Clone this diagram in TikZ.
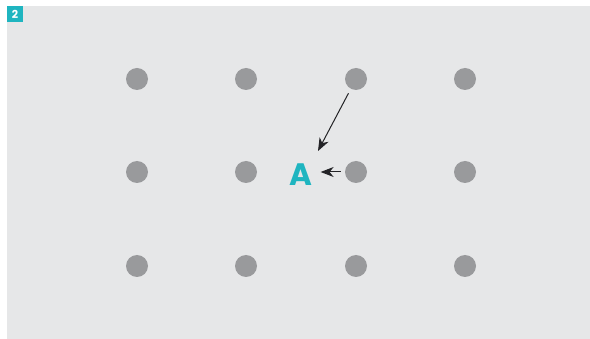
\documentclass[tikz,border=0pt]{standalone}
\usepackage{fontspec}
\setmainfont{Poppins}
\usetikzlibrary{arrows.meta}
\definecolor{panelGray}{RGB}{230, 231, 232}
\definecolor{dotGray}{RGB}{153, 154, 156}
\definecolor{markTeal}{RGB}{31, 181, 192}
\definecolor{arrowDark}{RGB}{35, 35, 38}
\tikzset{
  gridDot/.style={circle, fill=dotGray, minimum size=22pt, inner sep=0pt},
  pointer/.style={-{Stealth[length=13pt, width=10pt, inset=4pt]}, arrowDark, line width=1pt},
}
\begin{document}
\begin{tikzpicture}[x=1pt, y=-1pt]
  \useasboundingbox (0,0) rectangle (590,339);
  \fill[panelGray] (7,6) rectangle (590,339);
  \node[fill=markTeal, minimum size=16pt, inner sep=0pt, text=white, font=\bfseries\fontsize{11}{11}\selectfont]
    (tag) at (15,14) {2};
  % grid of dots
  \foreach \col/\x in {1/137, 2/246, 3/356, 4/465}
    \foreach \row/\y in {1/79, 2/172, 3/266}
      \node[gridDot] (d\col\row) at (\x,\y) {};
  \node[text=markTeal, font=\bfseries\fontsize{31}{31}\selectfont, inner sep=0pt] (A) at (301,175) {A};
  \coordinate (tipA) at (318,151);
  \draw[pointer, shorten <=5pt] (d31) -- (tipA);
  \draw[pointer, shorten <=4pt, shorten >=8pt] (d32.west) -- (A.east |- d32.west);
\end{tikzpicture}
\end{document}
